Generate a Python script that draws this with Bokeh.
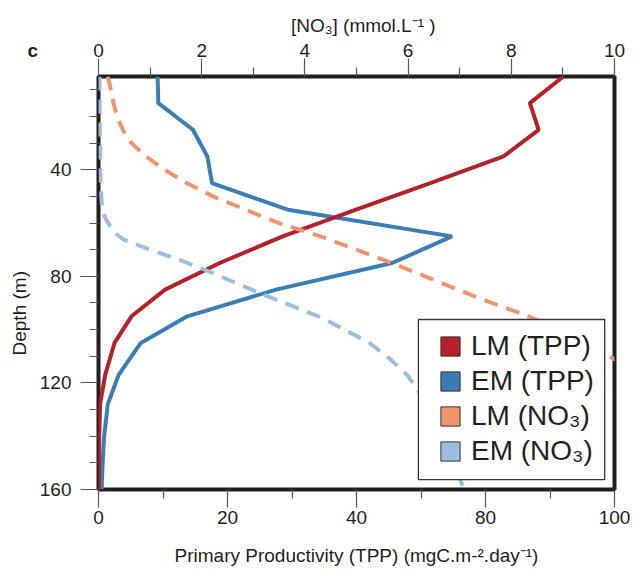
from bokeh.plotting import figure
from bokeh.models import (Range1d, LinearAxis, FixedTicker, Legend,
                          LegendItem, BoxAnnotation, Title)
from bokeh.embed import file_html
from bokeh.resources import INLINE

# ---------------- data ----------------
depth_tpp = [5, 15, 25, 35, 45, 55, 65, 75, 85, 95, 105, 117, 128, 140, 150, 160]
tpp_lm = [90.1, 83.6, 85.3, 78.5, 64.3, 49.9, 35.7, 23.5, 12.9, 6.4, 3.1, 1.3, 0.3, 0.15, 0.1, 0.1]
tpp_em = [11.45, 11.6, 18.3, 21.1, 22.0, 36.7, 68.5, 56.9, 34.4, 17.2, 8.2, 3.9, 1.8, 1.1, 0.8, 0.6]

depth_no3_lm = [5, 10, 15, 20, 25, 30, 35, 40, 45, 50, 55, 60, 65, 70, 75, 80, 85,
                90, 95, 100, 105, 110, 115]
no3_lm = [0.18, 0.24, 0.29, 0.36, 0.47, 0.64, 0.92, 1.28, 1.71, 2.22, 2.85, 3.5, 4.3,
          5.0, 5.68, 6.33, 6.97, 7.62, 8.33, 8.9, 9.42, 9.9, 10.35]

depth_no3_em = [5, 30, 45, 55, 58, 61, 64, 66, 68, 71, 74, 78, 86, 96, 105, 111, 117,
                123, 130, 140, 150, 160]
no3_em = [0.02, 0.03, 0.04, 0.07, 0.13, 0.22, 0.34, 0.47, 0.72, 1.15, 1.6, 2.12, 3.09,
          4.38, 5.25, 5.65, 5.98, 6.2, 6.45, 6.7, 6.9, 7.08]

series_names = ["LM (TPP)", "EM (TPP)", "LM (NO\u2083)", "EM (NO\u2083)"]
series_colors = ["#b3222b", "#3d7db6", "#f1946e", "#9dbddc"]

tpp_ticks = [0, 25, 50, 75, 100]
tpp_tick_labels = ["0", "20", "40", "80", "100"]
tpp_minor = [12.5, 37.5, 62.5, 87.5]
no3_ticks = [0, 2, 4, 6, 8, 10]
no3_minor = [1, 3, 5, 7, 9]
depth_ticks = [40, 80, 120, 160]
depth_minor = [10, 20, 30, 50, 60, 70, 90, 100, 110, 130, 140, 150]

title_top = "[NO\u2083] (mmol.L\u207b\u00b9 )"
title_bottom = "Primary Productivity (TPP) (mgC.m-\u00b2.day\u207b\u00b9)"
title_left = "Depth (m)"
panel_letter = "c"

FONT = "Liberation Sans"
TXT = "#231f20"

# ---------------- figure ----------------
p = figure(width=630, height=575, output_backend="svg", toolbar_location=None,
           x_range=Range1d(0, 100), y_range=Range1d(160, 5),
           min_border_left=97, min_border_right=16, min_border_top=76,
           min_border_bottom=86)
p.extra_x_ranges = {"no3": Range1d(0, 10)}
p.grid.visible = False
p.outline_line_color = "#231f20"
p.outline_line_width = 4
p.background_fill_color = "white"
p.border_fill_color = "white"

top_axis = LinearAxis(x_range_name="no3")
p.add_layout(top_axis, "above")


def style_axis(ax, label_standoff):
    ax.axis_line_color = None
    ax.major_tick_line_color = "#555555"
    ax.minor_tick_line_color = "#555555"
    ax.major_tick_line_width = 1.2
    ax.minor_tick_line_width = 1.2
    ax.major_tick_in = 0
    ax.minor_tick_in = 0
    ax.major_tick_out = 18
    ax.minor_tick_out = 9
    ax.major_label_text_font = FONT
    ax.major_label_text_font_size = "19px"
    ax.major_label_text_color = TXT
    ax.major_label_standoff = label_standoff


xb = p.below[0]
xb.ticker = FixedTicker(ticks=tpp_ticks, minor_ticks=tpp_minor)
xb.major_label_overrides = {t: l for t, l in zip(tpp_ticks, tpp_tick_labels)}
style_axis(xb, 3)
xb.axis_label = title_bottom
xb.axis_label_text_font = FONT
xb.axis_label_text_font_size = "19px"
xb.axis_label_text_font_style = "normal"
xb.axis_label_text_color = TXT
xb.axis_label_standoff = 18

yl = p.left[0]
yl.ticker = FixedTicker(ticks=depth_ticks, minor_ticks=depth_minor)
style_axis(yl, 9)

top_axis.ticker = FixedTicker(ticks=no3_ticks, minor_ticks=no3_minor)
style_axis(top_axis, 2)

# panel letter (second line of a two-line title of ~zero panel height)
c_title = Title(text="\u00a0\n" + panel_letter, align="left", offset=-71,
                vertical_align="bottom", standoff=-40, text_font=FONT,
                text_font_size="19px", text_font_style="bold", text_color=TXT)
p.add_layout(c_title, "above")

# top axis title
t_top = Title(text=title_top, align="left", offset=192.5, vertical_align="bottom",
              standoff=2, text_font=FONT, text_font_size="19px",
              text_font_style="normal", text_color=TXT)
p.add_layout(t_top, "above")

# left axis title
t_left = Title(text=title_left, align="left", offset=134, vertical_align="bottom",
               standoff=13, text_font=FONT, text_font_size="19px",
               text_font_style="normal", text_color=TXT)
p.add_layout(t_left, "left")

# ---------------- lines ----------------
p.line(tpp_em, depth_tpp, line_color=series_colors[1], line_width=4)
p.line(tpp_lm, depth_tpp, line_color=series_colors[0], line_width=4)
p.line(no3_lm, depth_no3_lm, x_range_name="no3", line_color=series_colors[2],
       line_width=4, line_dash="14 9")
p.line(no3_em, depth_no3_em, x_range_name="no3", line_color=series_colors[3],
       line_width=4, line_dash="14 9")

# ---------------- legend ----------------
box = BoxAnnotation(left=62.0, right=98.1, top=96.2, bottom=156.3,
                    fill_color="white", fill_alpha=1.0,
                    line_color="#333333", line_width=1.3, line_alpha=1.0)
p.add_layout(box)

series_x0 = [tpp_lm[0], tpp_em[0], no3_lm[0] * 10, no3_em[0] * 10]
items = []
for name, col, x0 in zip(series_names, series_colors, series_x0):
    r = p.quad(left=[x0], right=[x0], top=[depth_tpp[0]], bottom=[depth_tpp[0]],
               fill_color=col, line_color="#333333", line_width=1, visible=False)
    items.append(LegendItem(label=name, renderers=[r]))

legend = Legend(items=items, location=(340, 22), padding=0, spacing=3, margin=0,
                glyph_width=24, glyph_height=24, label_standoff=9,
                label_text_font=FONT, label_text_font_size="28px",
                label_text_color=TXT, border_line_alpha=0,
                background_fill_alpha=0, inactive_fill_alpha=0)
p.add_layout(legend, "center")

open("out.html", "w").write(file_html(p, INLINE))
